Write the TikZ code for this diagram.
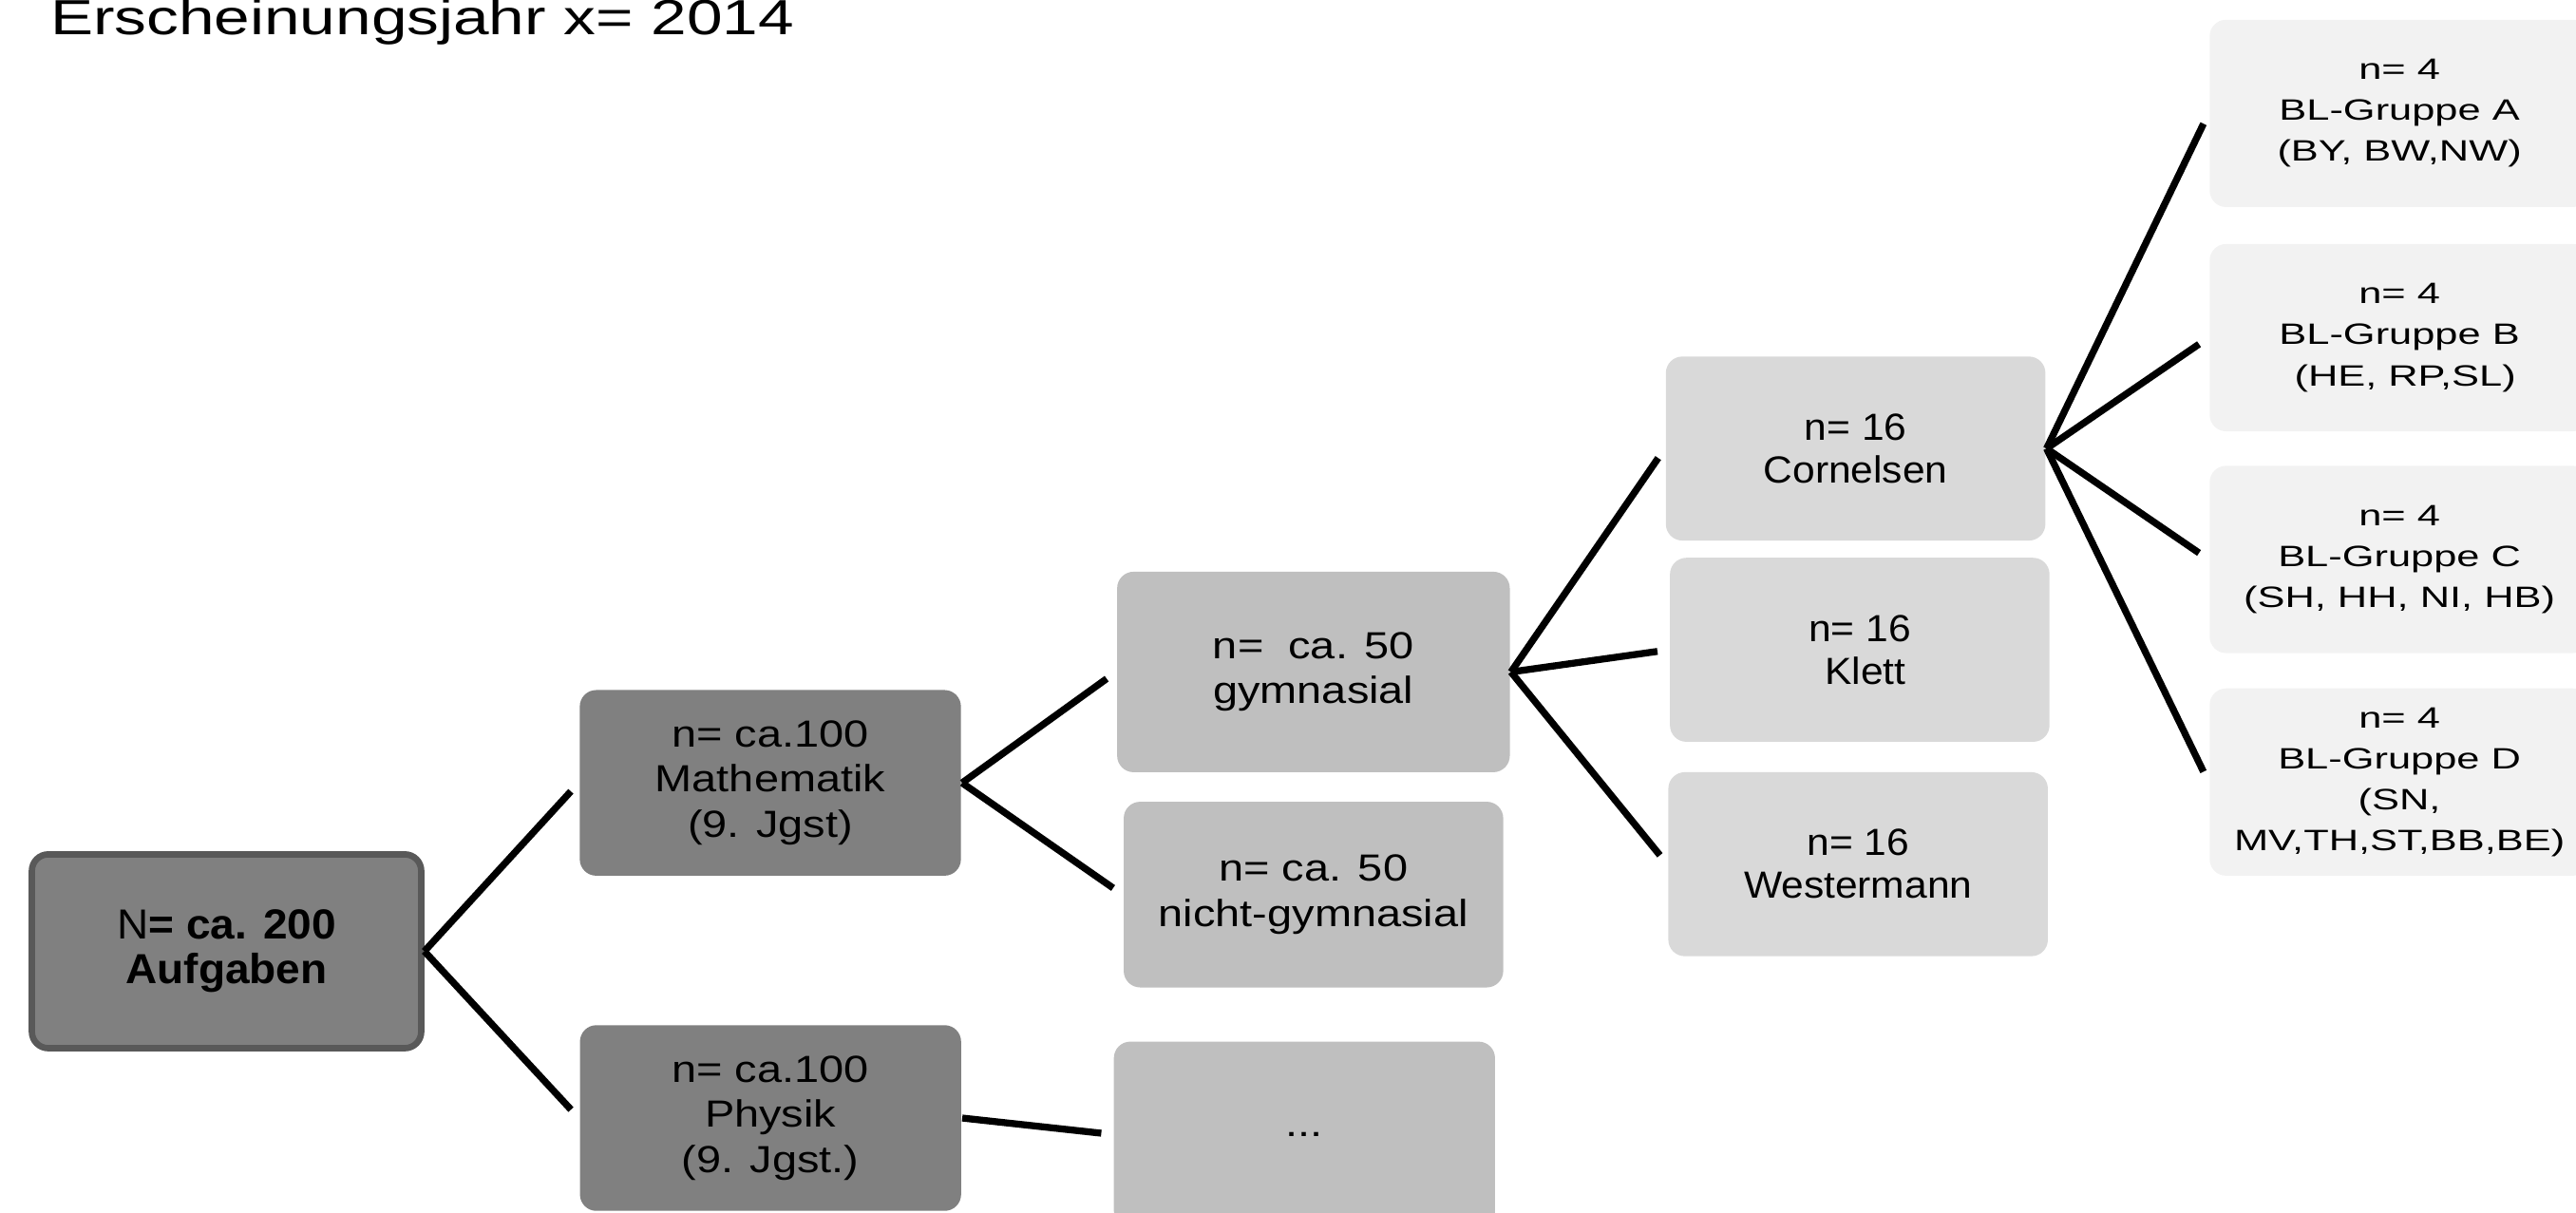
\documentclass[tikz,border=0pt]{standalone}
\usepackage{fontspec}
\setmainfont{Liberation Sans}
\newfontfamily\titlefont[FakeStretch=1.3]{Liberation Sans}
\newfontfamily\rootfont[FakeStretch=1.04]{Liberation Sans}
\newfontfamily\leftfont[FakeStretch=1.18]{Liberation Sans}
\newfontfamily\pubfont[FakeStretch=1.07]{Liberation Sans}
\newfontfamily\blfont[FakeStretch=1.4]{Liberation Sans}
\usetikzlibrary{calc}

\definecolor{grDark}{HTML}{808080}
\definecolor{grEdge}{HTML}{595959}
\definecolor{grMid}{HTML}{BFBFBF}
\definecolor{grLight}{HTML}{D9D9D9}
\definecolor{grPale}{HTML}{F2F2F2}

\tikzset{
  box/.style={rectangle, rounded corners=0.1cm, align=center, inner sep=0pt,
    minimum width=2.31cm, minimum height=1.13cm},
  rootbox/.style={box, fill=grDark, draw=grEdge, line width=1.1pt,
    minimum width=2.37cm, minimum height=1.18cm,
    font=\rootfont\fontsize{7.28}{7.7}\selectfont},
  subjbox/.style={box, fill=grDark, minimum width=2.32cm,
    font=\leftfont\fontsize{6.54}{7.8}\selectfont},
  schoolbox/.style={box, fill=grMid,
    font=\leftfont\fontsize{6.54}{7.8}\selectfont},
  pubbox/.style={box, fill=grLight, minimum height=1.12cm,
    font=\pubfont\fontsize{6.54}{7.4}\selectfont},
  groupbox/.style={box, fill=grPale, minimum height=1.14cm,
    font=\blfont\fontsize{5.1}{7.1}\selectfont},
  branch/.style={draw=black, line width=1.2pt, shorten >=0.07cm}
}

\begin{document}
\begin{tikzpicture}
\useasboundingbox (0,0) rectangle (15.68,-7.38);
% title
\node[anchor=base west, inner sep=0pt, font=\titlefont\fontsize{8.55}{10}\selectfont] (title) at (0.30,-0.21) {Erscheinungsjahr x= 2014};
% root
\node[rootbox] (root) at (1.379,-5.79) {N\textbf{= ca. 200}\\\textbf{Aufgaben}};
% subjects
\node[subjbox] (math) at (4.689,-4.765) {n= ca.100\\Mathematik\\(9. Jgst)};
\node[subjbox] (phys) at (4.69,-6.805) {n= ca.100\\Physik\\(9. Jgst.)};
% school types
\node[schoolbox, minimum width=2.39cm, minimum height=1.22cm] (gymn) at (7.995,-4.09) {n=\ \ ca. 50\\gymnasial};
\node[schoolbox] (ngymn) at (7.995,-5.445) {n= ca. 50\\nicht-gymnasial};
\node[schoolbox, minimum width=2.32cm] (more) at (7.94,-6.905) {...};
% publishers
\node[pubbox] (corn) at (11.295,-2.73) {n= 16\\Cornelsen};
\node[pubbox] (klett) at (11.32,-3.955) {n= 16\\\ Klett};
\node[pubbox] (west) at (11.31,-5.26) {n= 16\\Westermann};
% BL groups
\node[groupbox] (blA) at (14.605,-0.69) {n= 4\\BL-Gruppe A\\(BY, BW,NW)};
\node[groupbox] (blB) at (14.605,-2.055) {n= 4\\BL-Gruppe B\\\ (HE, RP,SL)};
\node[groupbox] (blC) at (14.605,-3.405) {n= 4\\BL-Gruppe C\\(SH, HH, NI, HB)};
\node[groupbox] (blD) at (14.605,-4.76) {n= 4\\BL-Gruppe D\\(SN,\\MV,TH,ST,BB,BE)};
% branches
\draw[branch] (root.east) -- (math.west);
\draw[branch] (root.east) -- (phys.west);
\draw[branch] (math.east) -- (gymn.west);
\draw[branch] (math.east) -- (ngymn.west);
\draw[branch] (phys.east) -- (more.west);
\draw[branch] (gymn.east) -- (corn.west);
\draw[branch] (gymn.east) -- (klett.west);
\draw[branch] (gymn.east) -- (west.west);
\foreach \g in {blA,blB,blC,blD}
  \draw[branch] (corn.east) -- (\g.west);
\end{tikzpicture}
\end{document}
